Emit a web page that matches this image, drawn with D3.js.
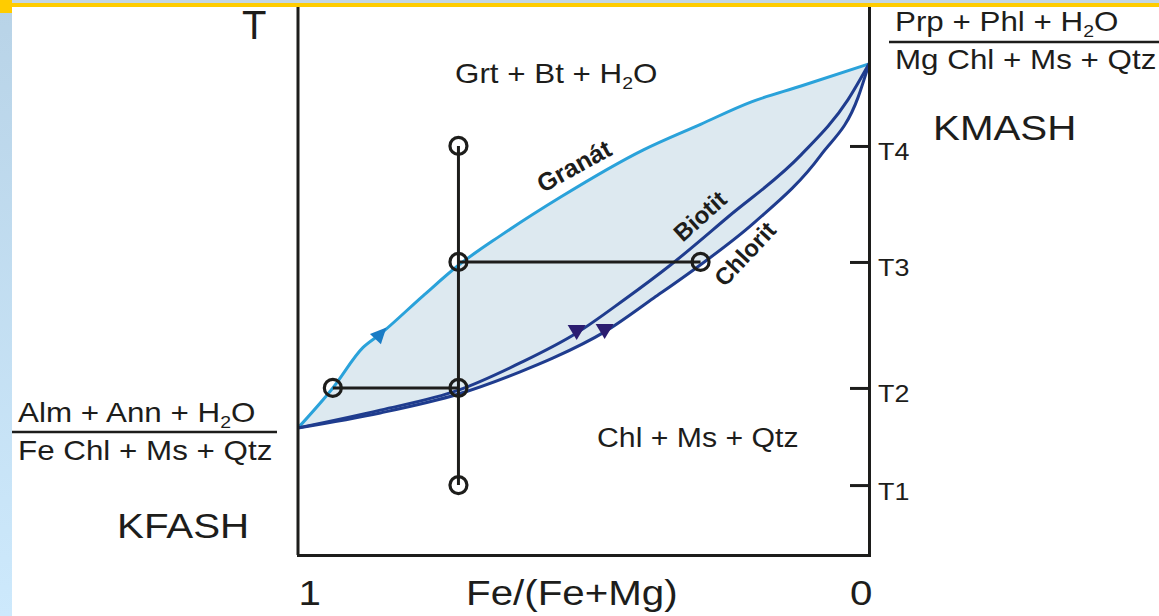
<!DOCTYPE html>
<html>
<head>
<meta charset="utf-8">
<script src="https://cdn.jsdelivr.net/npm/d3@7"></script>
<style>
body{margin:0;background:#fff;overflow:hidden}
svg{display:block;font-family:"Liberation Sans",Arial,sans-serif}
</style>
</head>
<body>
<div id="chart"></div>
<script>
// axis values
const feTicks = [1, 0];
const tTicks = [12.6, 30.1, 52.8, 73.7];
const tLabels = ["T1", "T2", "T3", "T4"];

// curves: Fe/(Fe+Mg) and relative T (0..100)
const granatFe = [1, 0.939, 0.886, 0.856, 0.781, 0.719, 0.646, 0.540, 0.395, 0.295, 0.207, 0.119, 0];
const granatT  = [22.9, 30.1, 37.4, 39.8, 46.7, 52.2, 57.5, 64.5, 73.0, 77.6, 81.6, 84.5, 88.5];
const biotitFe = [1, 0.856, 0.719, 0.611, 0.512, 0.430, 0.347, 0.247, 0.119, 0.037, 0];
const biotitT  = [22.9, 26.1, 29.7, 34.6, 40.0, 45.9, 52.3, 60.9, 72.1, 82.0, 88.5];
const chloritFe = [1, 0.856, 0.719, 0.611, 0.553, 0.463, 0.377, 0.295, 0.202, 0.084, 0.019, 0];
const chloritT  = [22.9, 25.6, 29.0, 33.0, 35.5, 40.2, 46.3, 52.3, 59.8, 72.1, 82.5, 88.5];

// tie lines and composition points
const bulkFe = 0.719;
const circleFe = [0.719, 0.719, 0.295, 0.939, 0.719, 0.719];
const circleT  = [73.7, 52.8, 52.8, 30.1, 30.1, 12.6];
const tieFrom = [0.719, 0.939];
const tieTo   = [0.295, 0.719];
const tieT    = [52.8, 30.1];

// arrow positions (index into the curve)
const granatArrow = [3];
const biotitArrow = [4];
const chloritArrow = [5];

const width = 1159, height = 616;
const ink = "#1d1d1b";

const svg = d3.select("#chart").append("svg")
  .attr("width", width)
  .attr("height", height);

const x = d3.scaleLinear().domain([1, 0]).range([298, 869]);
const y = d3.scaleLinear().domain([0, 100]).range([555, 0]);

const zip = (a, b) => a.map((v, i) => [v, b[i]]);
const granat = zip(granatFe, granatT);
const biotit = zip(biotitFe, biotitT);
const chlorit = zip(chloritFe, chloritT);

const line = d3.line()
  .x(d => x(d[0]))
  .y(d => y(d[1]))
  .curve(d3.curveMonotoneX);

// shaded field between garnet and chlorite
const upper = line(granat);
const lower = line(chlorit.slice().reverse()).replace(/^M/, "L");
svg.append("path")
  .attr("d", upper + lower + "Z")
  .attr("fill", "#dde9f0");

// curves
svg.append("path").attr("d", line(granat))
  .attr("fill", "none").attr("stroke", "#2aa2da").attr("stroke-width", 3);
svg.append("path").attr("d", line(biotit))
  .attr("fill", "none").attr("stroke", "#1f3c8e").attr("stroke-width", 3);
svg.append("path").attr("d", line(chlorit))
  .attr("fill", "none").attr("stroke", "#1f3c8e").attr("stroke-width", 3);

// tie lines
svg.append("line")
  .attr("x1", x(bulkFe)).attr("x2", x(bulkFe))
  .attr("y1", y(d3.max(circleT))).attr("y2", y(d3.min(circleT)))
  .attr("stroke", ink).attr("stroke-width", 3);
svg.selectAll(".tie").data(tieT).enter().append("line")
  .attr("class", "tie")
  .attr("x1", (d, i) => x(tieFrom[i])).attr("x2", (d, i) => x(tieTo[i]))
  .attr("y1", d => y(d)).attr("y2", d => y(d))
  .attr("stroke", ink).attr("stroke-width", 3);

// circles
svg.selectAll(".pt").data(circleFe).enter().append("circle")
  .attr("class", "pt")
  .attr("cx", d => x(d))
  .attr("cy", (d, i) => y(circleT[i]))
  .attr("r", 8.5)
  .attr("fill", "none")
  .attr("stroke", ink)
  .attr("stroke-width", 3.2);

// arrows
granatArrow.forEach(i => {
  const p0 = granat[i - 1], p1 = granat[i + 1];
  const a = Math.atan2(y(p1[1]) - y(p0[1]), x(p1[0]) - x(p0[0])) * 180 / Math.PI;
  svg.append("path")
    .attr("d", "M9,0L-7,-7.5L-7,7.5Z")
    .attr("transform", `translate(${x(granat[i][0])},${y(granat[i][1])}) rotate(${a - 6})`)
    .attr("fill", "#1a7cc5");
});
[[biotit, biotitArrow], [chlorit, chloritArrow]].forEach(([c, idx]) => {
  idx.forEach(i => {
    svg.append("path")
      .attr("d", "M-9,-8L9,-8L0,7Z")
      .attr("transform", `translate(${x(c[i][0])},${y(c[i][1])})`)
      .attr("fill", "#2b1d70");
  });
});

// frame and axes
svg.append("line")
  .attr("x1", x(1)).attr("x2", x(1))
  .attr("y1", y(100)).attr("y2", y(0))
  .attr("stroke", ink).attr("stroke-width", 3);

const xAxis = svg.append("g")
  .attr("transform", `translate(0,${y(0)})`)
  .call(d3.axisBottom(x).tickValues(feTicks).tickSize(0).tickSizeOuter(0).tickFormat(d3.format("d")));
xAxis.select(".domain").attr("stroke", ink).attr("stroke-width", 3).attr("stroke-linecap", "square");
xAxis.selectAll("text")
  .attr("y", 50).attr("dy", 0)
  .attr("font-size", 36)
  .attr("font-family", "Liberation Sans, Arial, sans-serif")
  .attr("fill", ink)
  .attr("text-anchor", d => d === 1 ? "start" : "end")
  .attr("transform", d => d === 1 ? "scale(1.12,1)" : "translate(3,0) scale(1.12,1)");

const yAxis = svg.append("g")
  .attr("transform", `translate(${x(0)},0)`)
  .call(d3.axisRight(y).tickValues(tTicks).tickSize(-19).tickSizeOuter(0)
    .tickFormat((d, i) => tLabels[i]));
yAxis.select(".domain").attr("stroke", ink).attr("stroke-width", 3);
yAxis.selectAll(".tick line").attr("stroke", ink).attr("stroke-width", 3);
yAxis.selectAll("text")
  .attr("x", 0).attr("y", 0).attr("dy", 0)
  .attr("font-size", 24)
  .attr("font-family", "Liberation Sans, Arial, sans-serif")
  .attr("fill", ink)
  .attr("text-anchor", "start")
  .attr("transform", "translate(9,14) scale(1.12,1)");

// text helper, parts are [text, isSubscript]
function addText(parts, px, py, size, sx) {
  const t = svg.append("text")
    .attr("transform", `translate(${px},${py}) scale(${sx},1)`)
    .attr("font-size", size)
    .attr("fill", ink);
  let sub = false;
  parts.forEach(([s, isSub]) => {
    const ts = t.append("tspan").text(s);
    if (isSub && !sub) ts.attr("font-size", size * 0.62).attr("dy", size * 0.22);
    else if (!isSub && sub) ts.attr("dy", -size * 0.22);
    sub = isSub;
  });
  return t;
}

addText([["T", 0]], 242, 39, 40, 1);
addText([["Grt + Bt + H", 0], ["2", 1], ["O", 0]], 455, 83, 28, 1.12);
addText([["Chl + Ms + Qtz", 0]], 597, 447, 27, 1.12);
addText([["Fe/(Fe+Mg)", 0]], 466, 605, 36, 1.12);
addText([["KMASH", 0]], 933, 140, 36, 1.12);
addText([["KFASH", 0]], 117, 538, 36, 1.12);

addText([["Prp + Phl + H", 0], ["2", 1], ["O", 0]], 895, 31, 28, 1.12);
svg.append("line").attr("x1", 889).attr("x2", width).attr("y1", 42).attr("y2", 42)
  .attr("stroke", ink).attr("stroke-width", 2.5);
addText([["Mg Chl + Ms + Qtz", 0]], 895, 69, 28, 1.12);

addText([["Alm + Ann + H", 0], ["2", 1], ["O", 0]], 18, 422, 28, 1.12);
svg.append("line").attr("x1", 12).attr("x2", 277).attr("y1", 432).attr("y2", 432)
  .attr("stroke", ink).attr("stroke-width", 2.5);
addText([["Fe Chl + Ms + Qtz", 0]], 18, 460, 28, 1.12);

// curve names
[["Granát", 574, 166, -29], ["Biotit", 700, 216, -42], ["Chlorit", 745, 254, -47]].forEach(([s, cx, cy, a]) => {
  svg.append("text")
    .attr("transform", `translate(${cx},${cy}) rotate(${a})`)
    .attr("text-anchor", "middle")
    .attr("dy", "0.35em")
    .attr("font-size", s === "Granát" ? 25 : 24)
    .attr("font-weight", "bold")
    .attr("fill", ink)
    .text(s);
});

// slide decoration
const defs = svg.append("defs");
const grad = defs.append("linearGradient").attr("id", "side")
  .attr("x1", 0).attr("x2", 0).attr("y1", 0).attr("y2", 1);
grad.append("stop").attr("offset", 0).attr("stop-color", "#b8d3e7");
grad.append("stop").attr("offset", 1).attr("stop-color", "#cde9fc");
svg.append("rect").attr("x", 0).attr("y", 0).attr("width", 12).attr("height", height).attr("fill", "url(#side)");
svg.append("rect").attr("x", 0).attr("y", 0).attr("width", width).attr("height", 3).attr("fill", "#c3d6e4");
svg.append("rect").attr("x", 0).attr("y", 3).attr("width", width).attr("height", 4).attr("fill", "#ffcc00");
svg.append("rect").attr("x", 0).attr("y", 0).attr("width", 12).attr("height", 13).attr("fill", "#ffcc00");
</script>
</body>
</html>
